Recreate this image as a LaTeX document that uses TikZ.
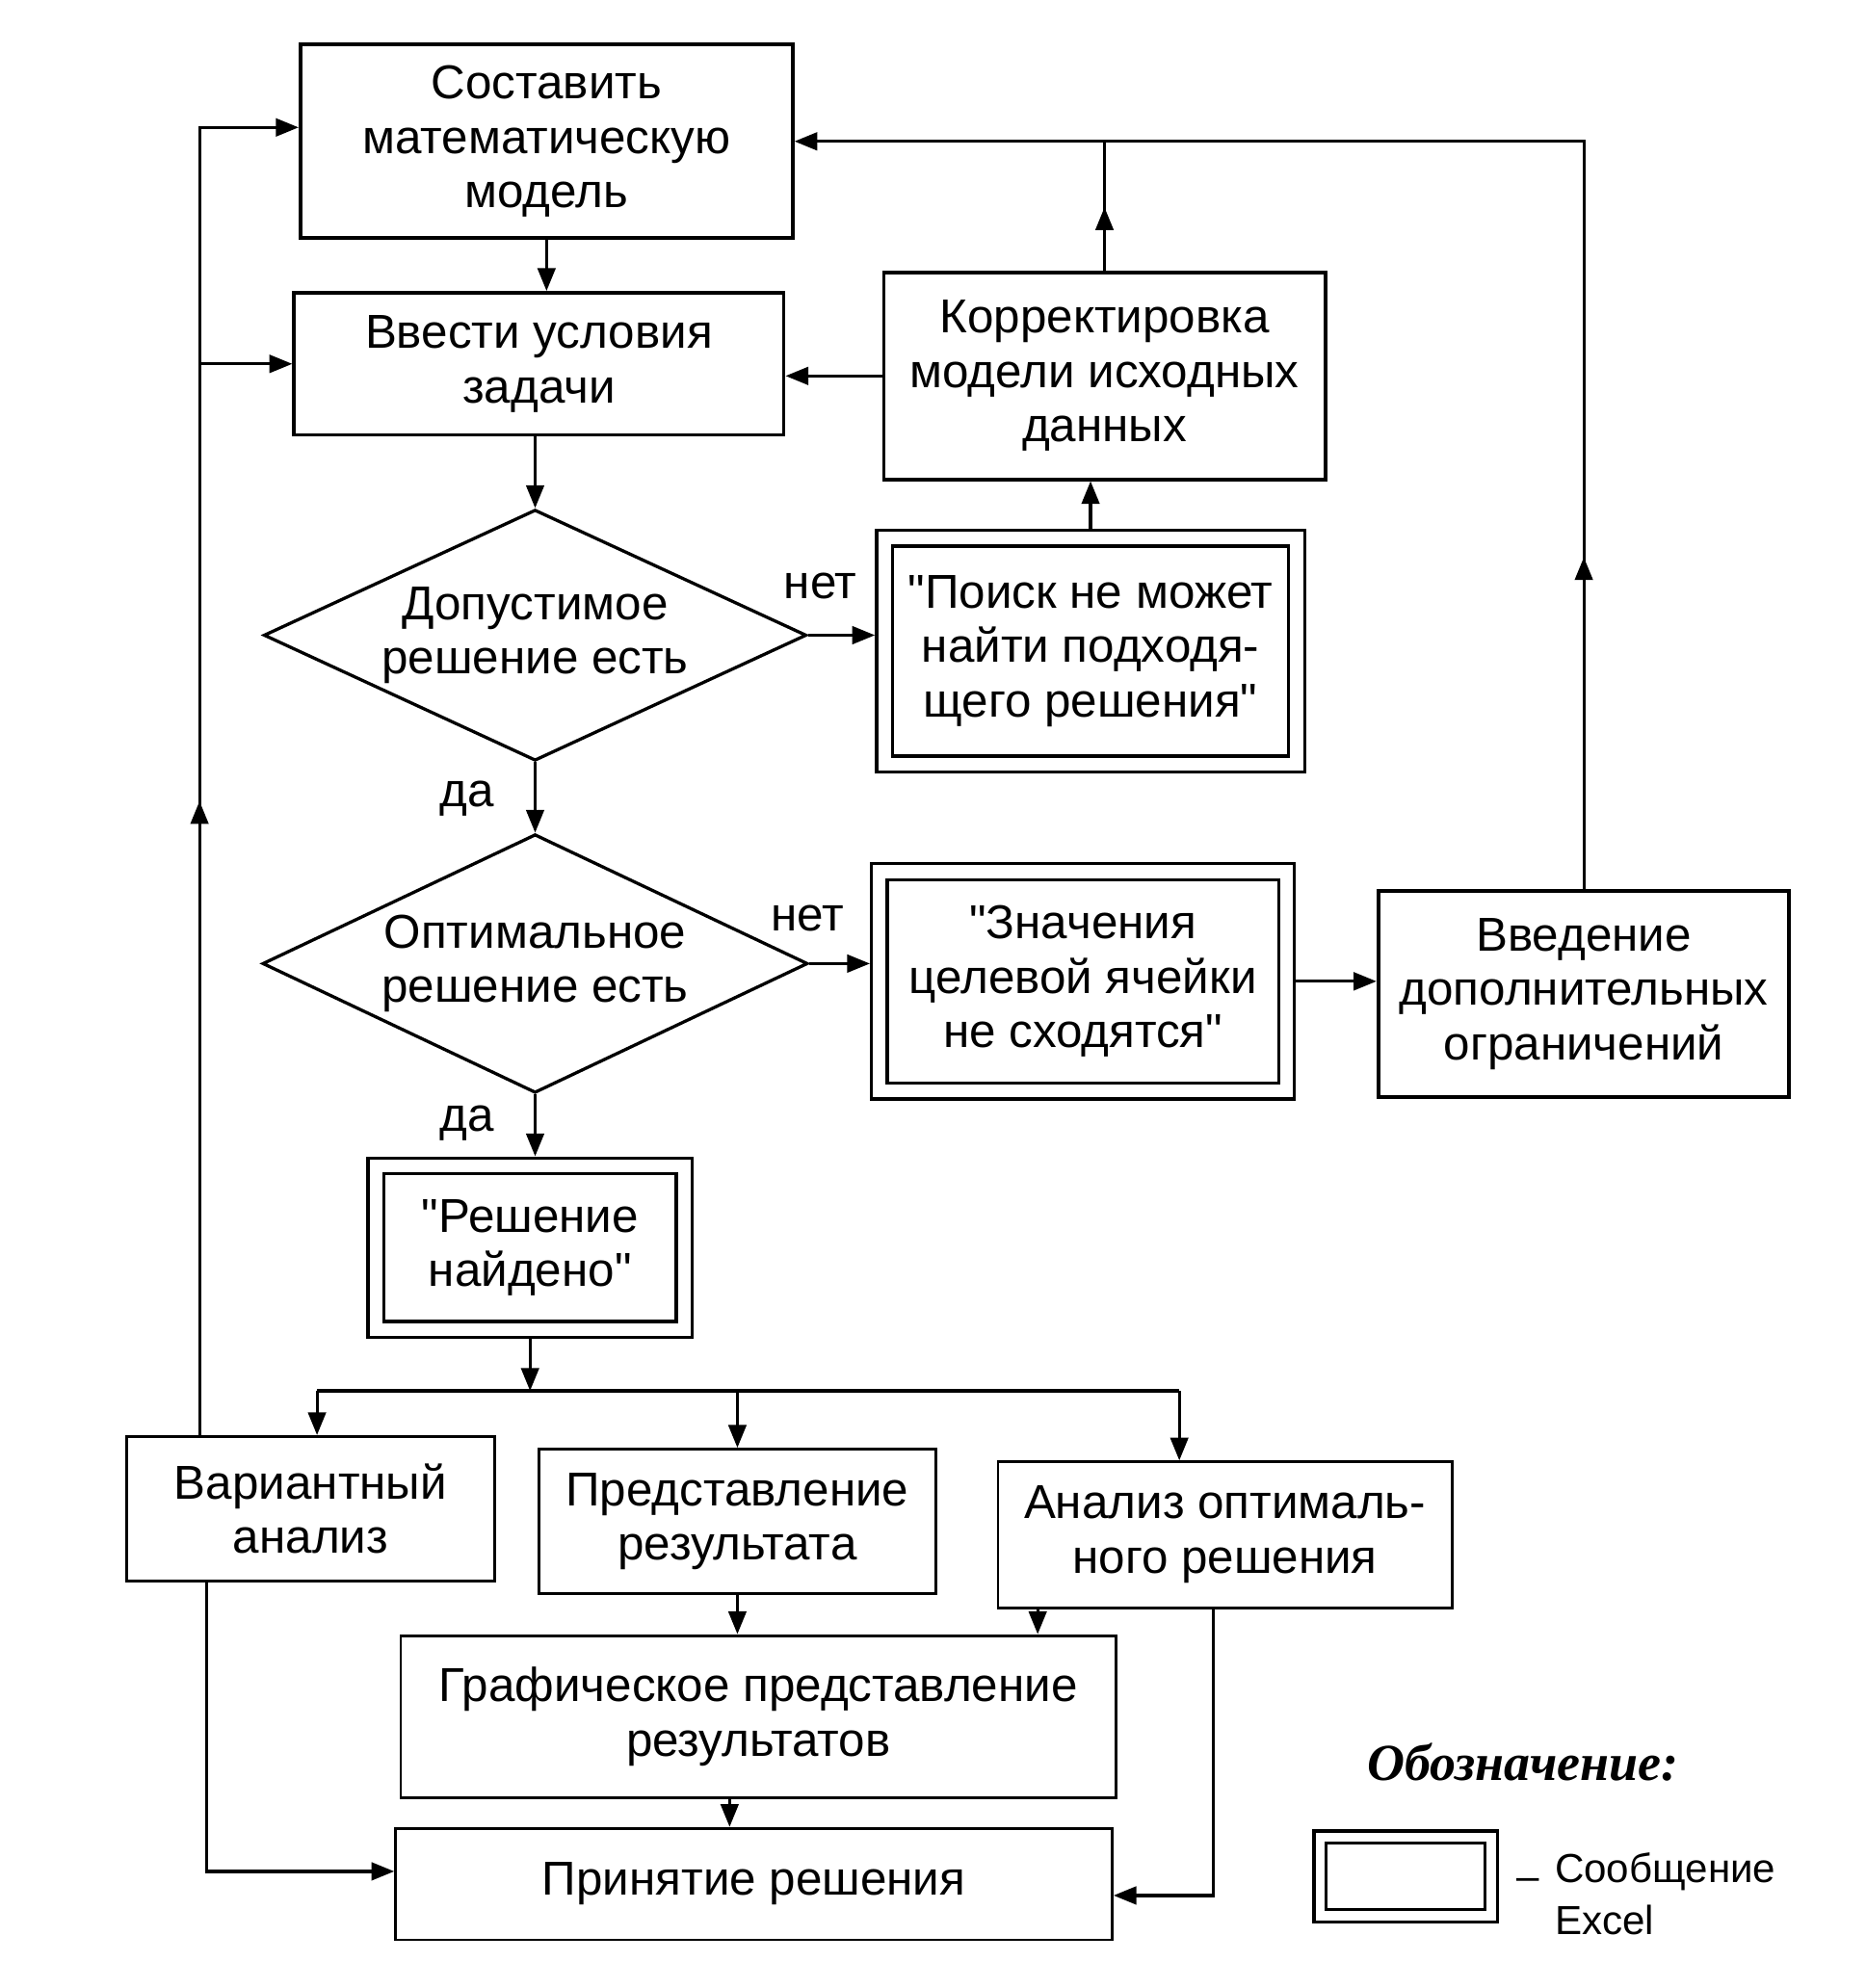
\documentclass[tikz,border=0pt]{standalone}
\usepackage{fontspec}
\setmainfont{Liberation Sans}
\newfontfamily\legendfont{Liberation Serif}
\newcommand\dq{\XeTeXglyph\XeTeXcharglyph"22\relax}
\usetikzlibrary{arrows.meta,shapes.geometric,calc}
\begin{document}
\begin{tikzpicture}[x=1pt,y=-1pt,
  every node/.style={font=\fontsize{37.5}{43}\selectfont, align=center, inner sep=0pt},
  box/.style={draw, line width=3pt, rectangle},
  lbox/.style={draw, line width=2.2pt, rectangle},
  msg/.style={draw, line width=2.5pt, double, double distance=10pt, rectangle, outer sep=7.5pt},
  dec/.style={draw, line width=2.5pt, diamond, aspect=2.16},
  conn/.style={line width=2.4pt},
  arr/.style={conn, -{Triangle[length=18pt,width=14pt]}},
]
\fill[white] (0,0) rectangle (1471,1568);
\useasboundingbox (0,0) rectangle (1471,1568);

% upper part
\node[box, minimum width=388pt, minimum height=153pt] (B1) at (431,111.5) {Составить\\математическую\\модель};
\node[box, minimum width=386pt, minimum height=112pt] (B2) at (425,287) {Ввести условия\\задачи};
\node[box, minimum width=348pt, minimum height=163pt] (K) at (871,296.5) {Корректировка\\модели исходных\\данных};
\node[dec, minimum width=428pt, minimum height=198pt] (D1) at (422,501) {Допустимое\\решение есть};
\node[msg, minimum width=325pt, minimum height=178pt] (B3) at (860,513.5) {\dq Поиск не может\\найти подходя-\\щего решения\dq};
\node[dec, minimum width=430pt, minimum height=204pt] (D2) at (422,760) {Оптимальное\\решение есть};
\node[msg, minimum width=321pt, minimum height=173pt] (B4) at (854,774) {\dq Значения\\целевой ячейки\\не сходятся\dq};
\node[box, minimum width=324pt, minimum height=162pt] (V) at (1249,784) {Введение\\дополнительных\\ограничений};
\node[msg, minimum width=243pt, minimum height=129pt] (R) at (418,984) {\dq Решение\\найдено\dq};

\node (n1) at (647,462) {нет};
\node (n2) at (637,724) {нет};
\node (y1) at (368,630) {да};
\node (y2) at (368,886) {да};

% lower part
\node[lbox, minimum width=290pt, minimum height=114pt] (VA) at (245,1190) {Вариантный\\анализ};
\node[lbox, minimum width=313pt, minimum height=114pt] (P) at (581.5,1200) {Представление\\результата};
\node[lbox, minimum width=358pt, minimum height=115pt] (A) at (966,1210.5) {Анализ оптималь-\\ного решения};
\node[lbox, minimum width=564pt, minimum height=128pt] (G) at (598,1354) {Графическое представление\\результатов};
\node[lbox, minimum width=565pt, minimum height=88pt] (PR) at (594.5,1486) {Принятие решения};

% legend
\node[font={\legendfont\bfseries\itshape\fontsize{41}{44}\selectfont}] (LT) at (1201,1390) {Обозначение:};
\node[msg, double distance=7pt, outer sep=6pt, minimum width=135pt, minimum height=62pt] (LB) at (1108.5,1480) {};
\node[font=\fontsize{32}{41}\selectfont] (LD) at (1205,1486) {–};
\node[anchor=west, align=left, font=\fontsize{32}{41}\selectfont] (LS) at (1226,1494) {Сообщение\\Excel};

% coordinates
\coordinate (lb) at ($(VA.north west)!0.2!(VA.north east)$);
\coordinate (busL) at (250,1097);
\coordinate (busR) at (930,1097);
\coordinate (a1) at ($(A.south west)!0.09!(A.south east)$);
\coordinate (a2) at ($(A.south west)!0.475!(A.south east)$);
\coordinate (g1) at ($(G.south west)!0.46!(G.south east)$);
\coordinate (v1) at ($(VA.south west)!0.22!(VA.south east)$);

% connectors upper
\draw[arr] (B1.south) -- (B1.south |- B2.north);
\draw[arr] (D1.north |- B2.south) -- (D1.north);
\draw[arr] (D1.south) -- (D2.north);
\draw[arr] (D2.south) -- (D2.south |- R.north);
\draw[arr] (D1.east) -- (D1.east -| B3.west);
\draw[arr] (D2.east) -- (D2.east -| B4.west);
\draw[arr] (B4.east) -- (B4.east -| V.west);
\draw[arr] (B3.north) -- (B3.north |- K.south);
\draw[arr] (K.west) -- (K.west -| B2.east);
\draw[conn] (K.north) -- (K.north |- B1.east);
\draw[arr] (K.north) -- ++(0,-50);
\draw[arr] (V.north) |- (B1.east);
\draw[arr] (V.north) -- ++(0,-262);

% left feedback
\draw[arr] (lb) |- ([yshift=11pt]B1.west);
\draw[arr] (lb |- B2.west) -- (B2.west);
\draw[arr] (lb) -- ++(0,-500);

% distribution bus
\draw[arr] (R.south) -- (R.south |- busL);
\draw[conn] (busL) -- (busR);
\draw[arr] (busL) -- (busL |- VA.north);
\draw[arr] (P.north |- busL) -- (P.north);
\draw[arr] (busR) -- (busR |- A.north);

% lower connectors
\draw[arr] (P.south) -- (P.south |- G.north);
\draw[arr] (a1) -- (a1 |- G.north);
\draw[arr] (g1) -- (g1 |- PR.north);
\draw[arr] (v1) |- ([yshift=10pt]PR.west);
\draw[arr] (a2) |- ([yshift=-9pt]PR.east);
\end{tikzpicture}
\end{document}
